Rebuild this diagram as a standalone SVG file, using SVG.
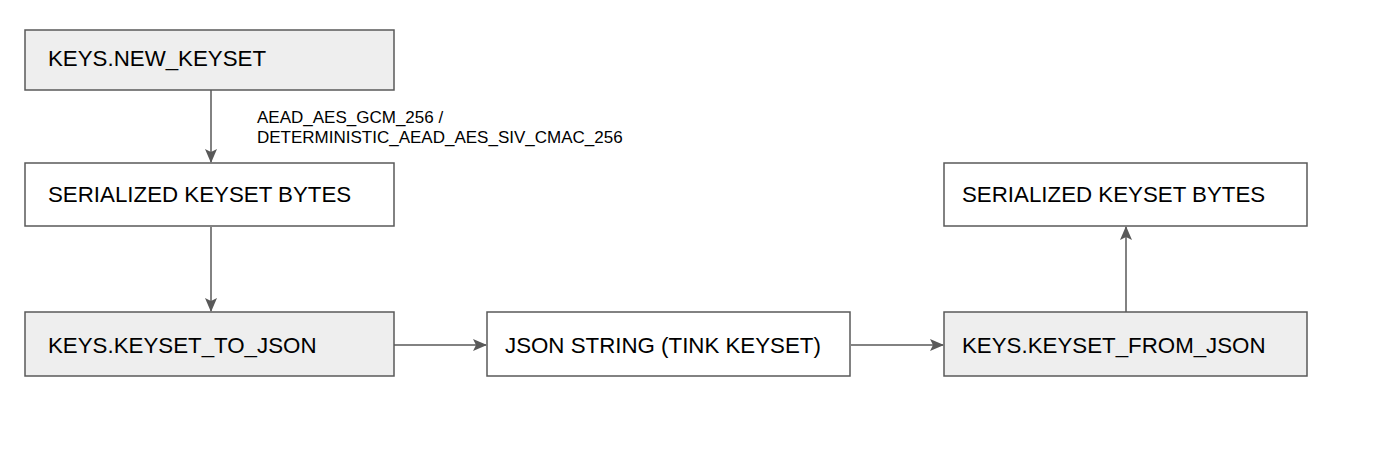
<svg xmlns="http://www.w3.org/2000/svg" width="1400" height="453" viewBox="0 0 1400 453">
<style>
.box{stroke:#595959;stroke-width:1.5}
.g{fill:#eeeeee}
.w{fill:#ffffff}
.t{font-family:"Liberation Sans",Arial,sans-serif;font-size:22.3px;fill:#000}
.lbl{font-family:"Liberation Sans",Arial,sans-serif;font-size:17px;fill:#000}
.c{stroke:#595959;stroke-width:1.5;fill:none;marker-end:url(#ah)}
</style>
<defs>
<marker id="ah" viewBox="0 0 14 12" refX="13" refY="6" markerWidth="14" markerHeight="12" markerUnits="userSpaceOnUse" orient="auto">
<path d="M0,0 L14,6 L0,12 L3,6 Z" fill="#595959"/>
</marker>
</defs>
<rect width="1400" height="453" fill="#fff"/>
<g id="connectors">
<line class="c" x1="211" y1="90" x2="211" y2="162"/>
<line class="c" x1="211" y1="227" x2="211" y2="311"/>
<line class="c" x1="394" y1="345" x2="486" y2="345"/>
<line class="c" x1="851" y1="345" x2="943" y2="345"/>
<line class="c" x1="1126" y1="312" x2="1126" y2="227"/>
<text class="lbl" x="257" y="123">AEAD_AES_GCM_256 /</text>
<text class="lbl" x="257" y="143">DETERMINISTIC_AEAD_AES_SIV_CMAC_256</text>
</g>
<g id="n1"><rect class="box g" x="25" y="30" width="369" height="60"/><text class="t" x="48" y="66">KEYS.NEW_KEYSET</text></g>
<g id="n2"><rect class="box w" x="25" y="163" width="369" height="63"/><text class="t" x="48" y="202">SERIALIZED KEYSET BYTES</text></g>
<g id="n3"><rect class="box g" x="25" y="312" width="369" height="64"/><text class="t" x="48" y="353">KEYS.KEYSET_TO_JSON</text></g>
<g id="n4"><rect class="box w" x="487" y="312" width="363" height="64"/><text class="t" x="505" y="353">JSON STRING (TINK KEYSET)</text></g>
<g id="n5"><rect class="box g" x="944" y="312" width="363" height="64"/><text class="t" x="962" y="353">KEYS.KEYSET_FROM_JSON</text></g>
<g id="n6"><rect class="box w" x="944" y="163" width="363" height="63"/><text class="t" x="962" y="202">SERIALIZED KEYSET BYTES</text></g>
</svg>
